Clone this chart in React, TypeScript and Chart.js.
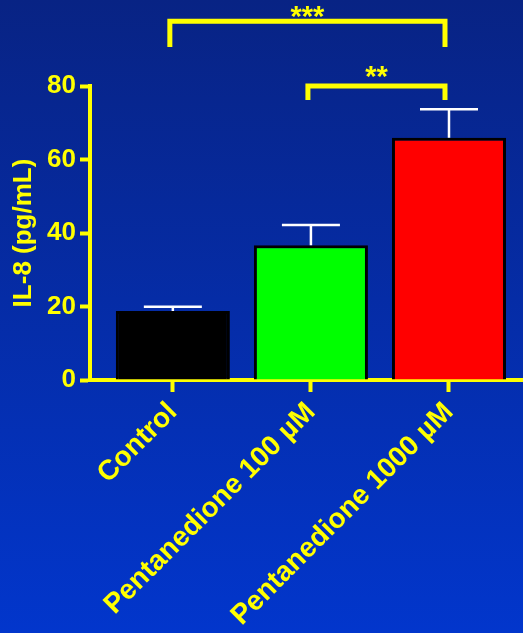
import React, { useEffect, useRef } from 'react';
import { Chart, registerables } from 'chart.js';

Chart.register(...registerables);

const categories = ['Control', 'Pentanedione 100 µM', 'Pentanedione 1000 µM'];
const meanValues = [18.8, 36.7, 65.9];
const errorValues = [1.1, 5.5, 7.8];
const barColors = ['#000000', '#00ff00', '#ff0000'];
const yTickValues = [0, 20, 40, 60, 80];
const bracketFrom = [0, 1];
const bracketTo = [2, 2];
const bracketLevel = [97.6, 80.0];
const bracketDrop = [7.0, 3.8];
const bracketLabelLevel = [100.6, 84.1];
const bracketLabels = ['***', '**'];

const FONT = '"Liberation Sans", Arial, Helvetica, sans-serif';
const YELLOW = '#ffff00';

const backgroundPlugin = {
  id: 'bgGradient',
  beforeDraw(chart: any) {
    const { ctx, width, height } = chart;
    const g = ctx.createLinearGradient(0, 0, 0, height);
    g.addColorStop(0, '#082384');
    g.addColorStop(1, '#0236cc');
    ctx.save();
    ctx.fillStyle = g;
    ctx.fillRect(0, 0, width, height);
    ctx.restore();
  },
};

const errorBarPlugin = {
  id: 'errorBars',
  afterDatasetsDraw(chart: any) {
    const { ctx } = chart;
    const x = chart.scales.x;
    const y = chart.scales.y;
    ctx.save();
    ctx.strokeStyle = '#ffffff';
    ctx.lineWidth = 2.5;
    meanValues.forEach((m, i) => {
      const px = x.getPixelForValue(i);
      const top = y.getPixelForValue(m + errorValues[i]);
      const base = y.getPixelForValue(m);
      ctx.beginPath();
      ctx.moveTo(px, base);
      ctx.lineTo(px, top);
      ctx.moveTo(px - 29, top);
      ctx.lineTo(px + 29, top);
      ctx.stroke();
    });
    ctx.restore();
  },
};

const bracketPlugin = {
  id: 'sigBrackets',
  afterDraw(chart: any) {
    const { ctx } = chart;
    const x = chart.scales.x;
    const y = chart.scales.y;
    ctx.save();
    ctx.strokeStyle = YELLOW;
    ctx.fillStyle = YELLOW;
    ctx.lineWidth = 5;
    ctx.lineJoin = 'miter';
    ctx.lineCap = 'butt';
    bracketLabels.forEach((lab, i) => {
      const x1 = x.getPixelForValue(bracketFrom[i]) - 3;
      const x2 = x.getPixelForValue(bracketTo[i]) - 4;
      const yl = y.getPixelForValue(bracketLevel[i]);
      const yb = y.getPixelForValue(bracketLevel[i] - bracketDrop[i]);
      ctx.beginPath();
      ctx.moveTo(x1, yb);
      ctx.lineTo(x1, yl);
      ctx.lineTo(x2, yl);
      ctx.lineTo(x2, yb);
      ctx.stroke();
      const fs = 29;
      ctx.font = `bold ${fs}px ${FONT}`;
      ctx.textAlign = 'center';
      ctx.textBaseline = 'middle';
      ctx.fillText(lab, (x1 + x2) / 2, y.getPixelForValue(bracketLabelLevel[i]) + 0.25 * fs);
    });
    ctx.restore();
  },
};

export default function App() {
  const ref = useRef<HTMLCanvasElement | null>(null);

  useEffect(() => {
    if (!ref.current) return;
    const chart = new Chart(ref.current, {
      type: 'bar',
      data: {
        datasets: [
          {
            data: meanValues.map((v, i) => ({ x: i, y: v })),
            backgroundColor: barColors,
            borderColor: '#000000',
            borderWidth: 3,
            barPercentage: 0.826,
            categoryPercentage: 1,
          },
        ],
      },
      options: {
        animation: false,
        responsive: false,
        events: [],
        layout: { padding: { top: 86, left: 0, right: 0, bottom: 0 } },
        plugins: {
          legend: { display: false },
          tooltip: { enabled: false },
          title: { display: false },
        },
        scales: {
          x: {
            type: 'linear',
            min: -0.6,
            max: 2.536,
            offset: false,
            z: 1,
            afterFit(scale: any) {
              scale.height = 253;
            },
            afterBuildTicks(scale: any) {
              scale.ticks = categories.map((_, i) => ({ value: i }));
            },
            border: { display: true, color: YELLOW, width: 4 },
            grid: {
              display: true,
              offset: false,
              drawOnChartArea: false,
              drawTicks: true,
              tickLength: 12,
              tickWidth: 4,
              tickColor: YELLOW,
            },
            ticks: {
              autoSkip: false,
              minRotation: 45,
              maxRotation: 45,
              padding: 4,
              color: YELLOW,
              font: { family: FONT, size: 28, weight: 'bold' },
              callback: (v: any) => categories[Number(v)] ?? '',
            },
          },
          y: {
            type: 'linear',
            min: 0,
            max: 80,
            z: 1,
            afterFit(scale: any) {
              scale.width = 90;
            },
            afterBuildTicks(scale: any) {
              scale.ticks = yTickValues.map((v) => ({ value: v }));
            },
            border: { display: true, color: YELLOW, width: 4 },
            grid: {
              display: true,
              drawOnChartArea: false,
              drawTicks: true,
              tickLength: 10,
              tickWidth: 4,
              tickColor: YELLOW,
            },
            ticks: {
              padding: 4,
              color: YELLOW,
              font: { family: FONT, size: 26, weight: 'bold' },
            },
            title: {
              display: true,
              text: 'IL-8 (pg/mL)',
              color: YELLOW,
              font: { family: FONT, size: 26, weight: 'bold' },
              padding: { top: 8, bottom: 0 },
            },
          },
        },
      },
      plugins: [backgroundPlugin, errorBarPlugin, bracketPlugin],
    } as any);
    return () => chart.destroy();
  }, []);

  return (
    <div style={{ position: 'absolute', left: 0, top: 0, width: 523, height: 633 }}>
      <canvas ref={ref} width={523} height={633} style={{ display: 'block' }} />
    </div>
  );
}
